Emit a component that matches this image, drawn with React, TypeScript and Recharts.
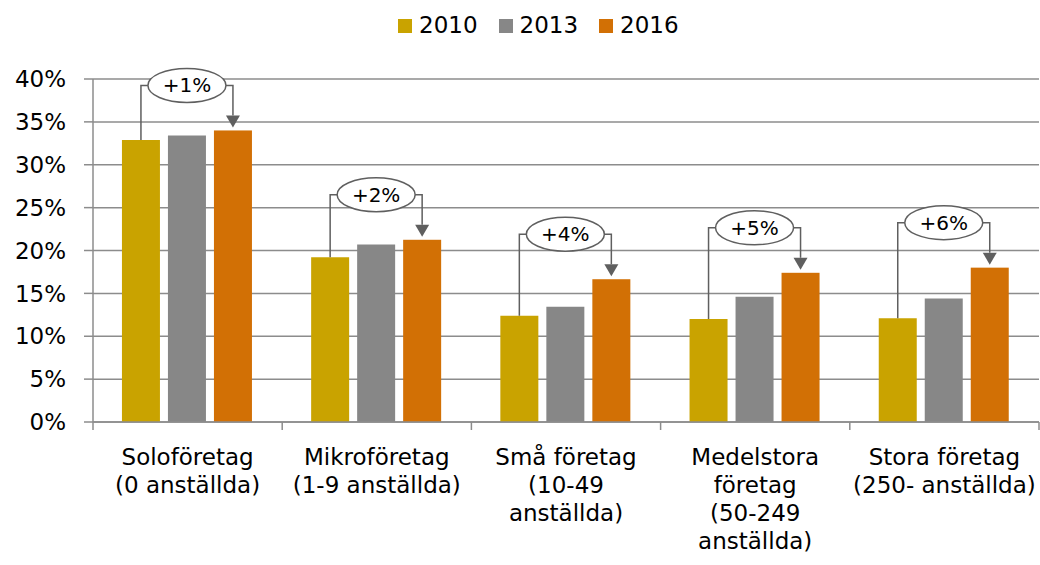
import { BarChart, Bar, XAxis, YAxis, CartesianGrid, Legend } from 'recharts'

const categories = [
  'Soloföretag\n(0 anställda)',
  'Mikroföretag\n(1-9 anställda)',
  'Små företag\n(10-49\nanställda)',
  'Medelstora\nföretag\n(50-249\nanställda)',
  'Stora företag\n(250- anställda)',
]
const years = ['2010', '2013', '2016']
const share2010 = [0.329, 0.192, 0.124, 0.12, 0.121]
const share2013 = [0.334, 0.207, 0.1345, 0.146, 0.144]
const share2016 = [0.34, 0.2125, 0.1665, 0.174, 0.18]
const changeLabels = ['+1%', '+2%', '+4%', '+5%', '+6%']
const yTicks = [0, 0.05, 0.1, 0.15, 0.2, 0.25, 0.3, 0.35, 0.4]

const COLORS = ['#C9A300', '#878787', '#D27005']
const FONT = '"DejaVu Sans", Verdana, sans-serif'
const GRID = '#8c8c8c'
const LINE = '#5f5f5f'
const BAR_GAP = 8

const WIDTH = 1040
const HEIGHT = 565
const Y_AXIS_W = 93
const MARGIN = { top: 79, right: 1, bottom: 0, left: 0 }
const PLOT_W = WIDTH - Y_AXIS_W - MARGIN.left - MARGIN.right

const data = categories.map((name, i) => ({
  name,
  y2010: share2010[i],
  y2013: share2013[i],
  y2016: share2016[i],
  change: changeLabels[i],
}))

// 2016 bar + the bracket from the 2010 bar with the change label
function AnnotatedBar(props: any) {
  const { x, y, width, height, fill, index } = props
  const row = props.payload && props.payload.y2010 != null ? props.payload : data[index]
  const bottom = y + height
  const startTop = bottom - (height * row.y2010) / row.y2016
  const endX = x + width / 2
  const startX = endX - 2 * (width + BAR_GAP)
  const level = y - 45
  const tip = y - 3
  const midX = (startX + endX) / 2
  return (
    <g>
      <rect x={x} y={y} width={width} height={height} fill={fill} />
      <polyline
        points={`${startX},${startTop} ${startX},${level} ${endX},${level} ${endX},${tip - 12}`}
        fill="none"
        stroke={LINE}
        strokeWidth={1.5}
      />
      <polygon points={`${endX - 7},${tip - 12} ${endX + 7},${tip - 12} ${endX},${tip}`} fill={LINE} />
      <ellipse cx={midX} cy={level} rx={39} ry={17} fill="#fff" stroke={LINE} strokeWidth={1.5} />
      <text x={midX} y={level} textAnchor="middle" dominantBaseline="central" fontSize={20} fontFamily={FONT} fill="#000">
        {row.change}
      </text>
    </g>
  )
}

function CategoryTick(props: any) {
  const { x, y, payload, index } = props
  const band = PLOT_W / categories.length
  const lines = String(payload.value).split('\n')
  const left = x - band / 2
  return (
    <g>
      <line x1={left} y1={y} x2={left} y2={y + 8} stroke={GRID} strokeWidth={1.5} />
      {index === categories.length - 1 && (
        <line x1={x + band / 2} y1={y} x2={x + band / 2} y2={y + 8} stroke={GRID} strokeWidth={1.5} />
      )}
      <text x={x} y={y + 43} textAnchor="middle" fontSize={23} fontFamily={FONT} fill="#000">
        {lines.map((l, i) => (
          <tspan key={i} x={x} dy={i === 0 ? 0 : 28}>
            {l}
          </tspan>
        ))}
      </text>
    </g>
  )
}

function LegendRow() {
  return (
    <div style={{ display: 'flex', alignItems: 'center', fontFamily: FONT, fontSize: 23, lineHeight: '23px', color: '#000' }}>
      {years.map((yr, i) => (
        <div key={yr} style={{ display: 'flex', alignItems: 'center', marginRight: 21 }}>
          <span style={{ width: 14, height: 14, background: COLORS[i], marginRight: 7, display: 'inline-block' }} />
          <span>{yr}</span>
        </div>
      ))}
    </div>
  )
}

export default function App() {
  return (
    <div style={{ position: 'absolute', left: 0, top: 0, width: WIDTH, height: HEIGHT, background: '#fff' }}>
      <BarChart width={WIDTH} height={HEIGHT} data={data} margin={MARGIN} barCategoryGap="15.3%" barGap={BAR_GAP}>
        <CartesianGrid vertical={false} stroke={GRID} strokeWidth={1.5} />
        <XAxis
          dataKey="name"
          height={HEIGHT - 422}
          interval={0}
          tickSize={0}
          tickMargin={0}
          tickLine={false}
          axisLine={{ stroke: GRID, strokeWidth: 1.5 }}
          tick={<CategoryTick />}
        />
        <YAxis
          width={Y_AXIS_W}
          domain={[0, 0.4]}
          ticks={yTicks}
          interval={0}
          tickSize={9}
          tickMargin={18}
          tickLine={{ stroke: GRID, strokeWidth: 1.5 }}
          axisLine={{ stroke: GRID, strokeWidth: 1.5 }}
          tick={{ fontSize: 23, fontFamily: FONT, fill: '#000' }}
          tickFormatter={(v: number) => `${Math.round(v * 100)}%`}
        />
        <Legend
          verticalAlign="middle"
          align="center"
          wrapperStyle={{ top: 14, left: 398, width: 'auto' }}
          content={() => <LegendRow />}
        />
        <Bar dataKey="y2010" name="2010" fill={COLORS[0]} isAnimationActive={false} />
        <Bar dataKey="y2013" name="2013" fill={COLORS[1]} isAnimationActive={false} />
        <Bar dataKey="y2016" name="2016" fill={COLORS[2]} isAnimationActive={false} shape={<AnnotatedBar />} />
      </BarChart>
    </div>
  )
}
